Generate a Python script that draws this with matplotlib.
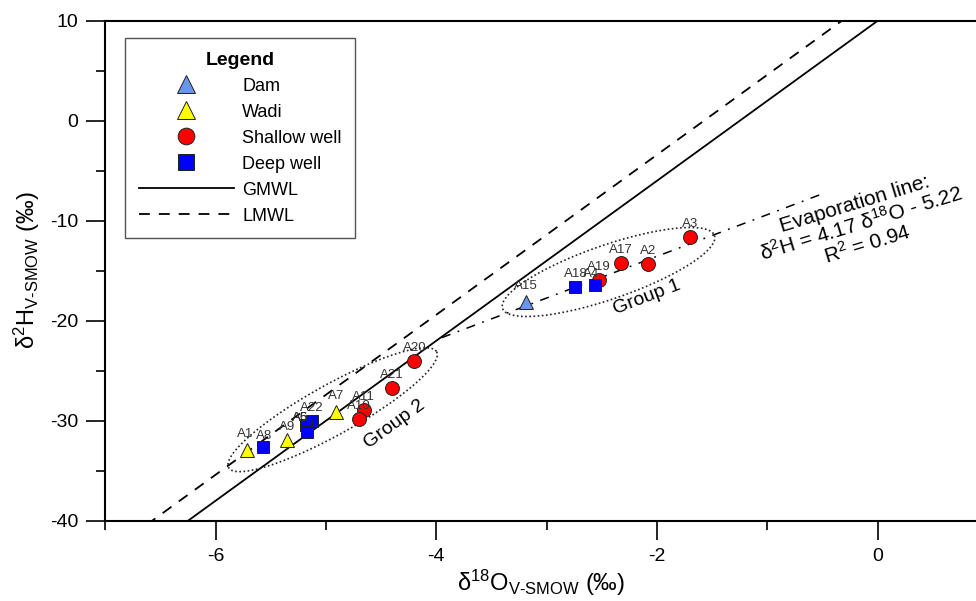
import matplotlib
matplotlib.use("Agg")
import matplotlib.pyplot as plt
import numpy as np
from matplotlib.lines import Line2D

plt.rcParams["font.family"] = ["Liberation Sans", "DejaVu Sans"]
plt.rcParams["mathtext.fontset"] = "custom"
plt.rcParams["mathtext.rm"] = "Liberation Sans"
plt.rcParams["mathtext.it"] = "Liberation Sans:italic"
plt.rcParams["mathtext.bf"] = "Liberation Sans:bold"
plt.rcParams["axes.unicode_minus"] = False

# sample data (d18O, d2H)
dam_id = ["A15"]
dam_x = [-3.19]
dam_y = [-18.1]

wadi_id = ["A1", "A9", "A7"]
wadi_x = [-5.72, -5.35, -4.91]
wadi_y = [-32.9, -31.9, -29.1]

shallow_id = ["A3", "A2", "A17", "A19", "A20", "A21", "A11", "A10"]
shallow_x = [-1.70, -2.08, -2.33, -2.53, -4.20, -4.40, -4.66, -4.70]
shallow_y = [-11.6, -14.3, -14.2, -15.9, -24.0, -26.7, -28.9, -29.8]

deep_id = ["A18", "A4", "A22", "A5", "A6", "A8"]
deep_x = [-2.74, -2.56, -5.13, -5.18, -5.17, -5.57]
deep_y = [-16.6, -16.4, -30.0, -30.4, -31.1, -32.6]

# water lines: slope, intercept
gmwl = (8.0, 10.0)
lmwl = (8.0, 12.6)
evap = (4.17, -5.22)
evap_range = [-3.95, -0.5]

fig = plt.figure(figsize=(9.76, 6.01), dpi=100)
ax = fig.add_axes([105.3 / 976, 1 - 520.7 / 601, 1 - 105.3 / 976, 500 / 601])
ax.set_xlim(-7, 0.89)
ax.set_ylim(-40, 10)

xx = np.array([-7.5, 1.0])
ax.plot(xx, gmwl[0] * xx + gmwl[1], color="black", lw=1.3, zorder=2)
ax.plot(xx, lmwl[0] * xx + lmwl[1], color="black", lw=1.3, dashes=(6, 5), zorder=2)
ex = np.array(evap_range)
ax.plot(ex, evap[0] * ex + evap[1], color="black", lw=1.1, dashes=(6, 5, 1.2, 5), zorder=2)

# group ellipses (center, half-axis vectors in data units)
t = np.linspace(0, 2 * np.pi, 300)
for c, u, w in [((-2.44, -15.13), (0.960, 3.65), (0.080, -2.55)),
                ((-4.94, -28.9), (0.942, 5.8), (0.110, -2.18))]:
    ax.plot(c[0] + u[0] * np.cos(t) + w[0] * np.sin(t),
            c[1] + u[1] * np.cos(t) + w[1] * np.sin(t),
            color="#222222", lw=1.2, ls=(0, (1, 1.5)), zorder=2)

mk = dict(ls="none", mec="#202020", mew=0.7, zorder=4)
ax.plot(dam_x, dam_y, marker="^", ms=10.5, mfc="#6a96e8", **mk)
ax.plot(wadi_x, wadi_y, marker="^", ms=10.5, mfc="#ffff00", **mk)
ax.plot(shallow_x, shallow_y, marker="o", ms=10, mfc="#ff0000", **mk)
ax.plot(deep_x, deep_y, marker="s", ms=8.5, mfc="#0000ff", **mk)

offsets = {"A4": (-3, 8), "A5": (-4, 5), "A6": (-5, 10), "A7": (0, 11),
           "A1": (-1, 11), "A15": (0, 11), "A8": (1, 7.5)}
for ids, xs, ys in [(dam_id, dam_x, dam_y), (wadi_id, wadi_x, wadi_y),
                    (shallow_id, shallow_x, shallow_y), (deep_id, deep_x, deep_y)]:
    for name, x, y in zip(ids, xs, ys):
        ax.annotate(name, (x, y), xytext=offsets.get(name, (0, 9.5)),
                    textcoords="offset points", ha="center", va="center",
                    fontsize=9.5, color="#333333", zorder=5)

ax.text(-2.09, -17.7, "Group 1", fontsize=14, rotation=21,
        ha="center", va="center", rotation_mode="anchor")
ax.text(-4.38, -30.4, "Group 2", fontsize=14, rotation=36,
        ha="center", va="center", rotation_mode="anchor")
ax.text(-0.15, -10.4,
        "Evaporation line:\nδ$^{2}$H = 4.17 δ$^{18}$O - 5.22\nR$^{2}$ = 0.94",
        fontsize=15, rotation=17, ha="center", va="center",
        multialignment="center", rotation_mode="anchor", linespacing=1.0)

ax.set_xticks([-6, -4, -2, 0])
ax.set_xticks(np.arange(-7, 1), minor=True)
ax.set_yticks(np.arange(-40, 11, 10))
ax.set_yticks(np.arange(-40, 11, 5), minor=True)
ax.tick_params(which="major", direction="out", length=13.5, width=1.2,
               labelsize=14, pad=6)
ax.tick_params(which="minor", direction="out", length=6.5, width=1.2)
ax.tick_params(axis="x", which="both", top=False)
ax.tick_params(axis="y", which="both", right=False)
for s in ["left", "bottom", "top"]:
    ax.spines[s].set_linewidth(1.5)
ax.spines["right"].set_visible(False)

ax.set_xlabel("δ$^{18}$O$_{\\rm V\\text{-}SMOW}$ (‰)", fontsize=17, labelpad=2)
ax.set_ylabel("δ$^{2}$H$_{\\rm V\\text{-}SMOW}$ (‰)", fontsize=17, labelpad=6)

handles = [
    Line2D([], [], ls="none", marker="^", ms=12.5, mfc="#6a96e8", mec="#202020", mew=0.7),
    Line2D([], [], ls="none", marker="^", ms=12.5, mfc="#ffff00", mec="#202020", mew=0.7),
    Line2D([], [], ls="none", marker="o", ms=12, mfc="#ff0000", mec="#202020", mew=0.7),
    Line2D([], [], ls="none", marker="s", ms=12, mfc="#0000ff", mec="#202020", mew=0.7),
    Line2D([], [], color="black", lw=1.3),
    Line2D([], [], color="black", lw=1.3, dashes=(6, 5)),
]
labels = ["Dam", "Wadi", "Shallow well", "Deep well", "GMWL", "LMWL"]
leg = ax.legend(handles, labels, title="Legend", loc="upper left",
                bbox_to_anchor=(125 / 976, 1 - 38 / 601), bbox_transform=fig.transFigure,
                borderaxespad=0, fontsize=13, title_fontproperties={"weight": "bold", "size": 14},
                handlelength=5.3, handletextpad=0.45, labelspacing=0.5,
                borderpad=0.75, fancybox=False, framealpha=1)
leg.get_frame().set_edgecolor("#555555")
leg.get_frame().set_linewidth(1.0)

fig.savefig("out.png", dpi=100)
